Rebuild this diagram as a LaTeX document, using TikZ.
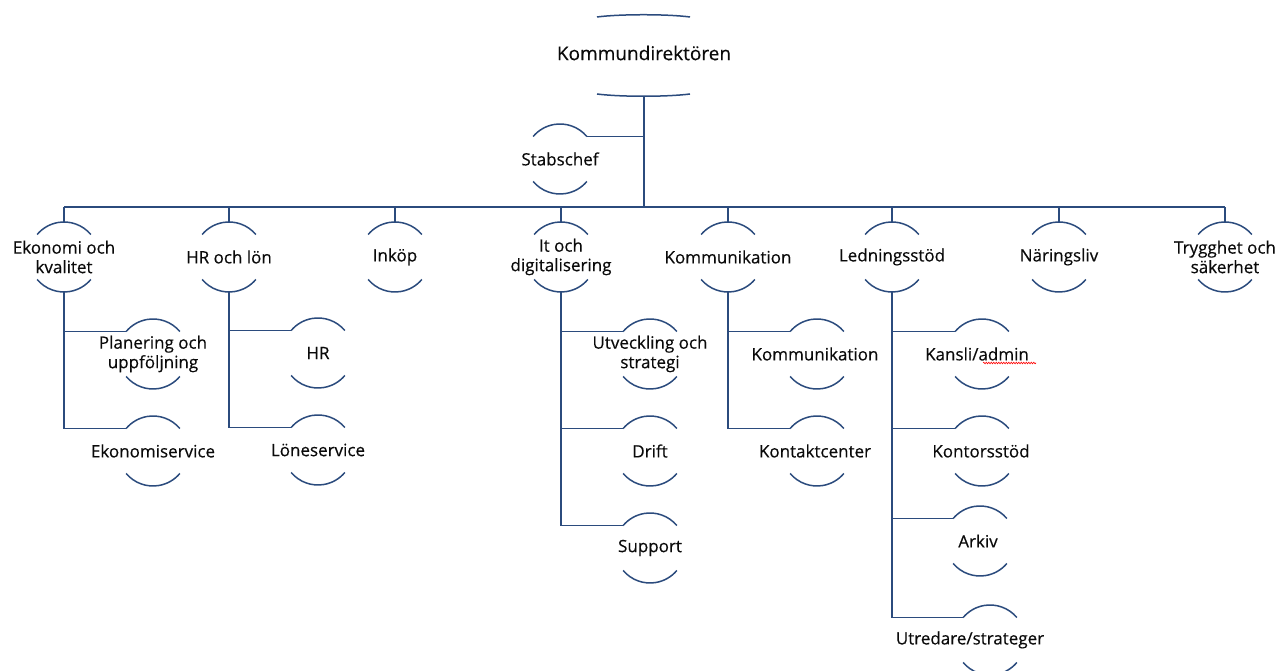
\documentclass[tikz,border=0pt]{standalone}
\usepackage{fontspec}
\setmainfont{Open Sans}
\usetikzlibrary{calc,decorations.pathmorphing}
\definecolor{navy}{HTML}{2B4B7D}
\definecolor{txt}{HTML}{0A0A0A}
\tikzset{
  lbl/.style={align=center,text=txt,font=\fontsize{17}{19.5}\selectfont\addfontfeatures{FakeBold=0.35},inner sep=0pt},
  arcline/.style={draw=navy,line width=1.5pt},
  conn/.style={draw=navy,line width=1.7pt},
  trunk/.style={draw=navy,line width=2.8pt},
}
\newcommand\orgnode[5]{%
  \coordinate (#1c) at (#2,{671-#3});
  \node[lbl] (#1) at ($(#1c)+(#4,0)$) {#5};
  \draw[arcline] ($(#1c)+(40:35)$) arc[start angle=40,end angle=140,radius=35];
  \draw[arcline] ($(#1c)+(220:35)$) arc[start angle=220,end angle=320,radius=35];
  \coordinate (#1-top) at ($(#1c)+(0,35)$);
  \coordinate (#1-bot) at ($(#1c)+(0,-35)$);
  \coordinate (#1-tl) at ($(#1c)+(140:35)$);
  \coordinate (#1-tr) at ($(#1c)+(40:35)$);
}
\begin{document}
\begin{tikzpicture}[x=1pt,y=1pt]
\useasboundingbox (0,0) rectangle (1279,671);
\clip (0,0) rectangle (1279,671);
\fill[white] (0,0) rectangle (1279,671);
% top node
\node[lbl,font=\fontsize{19}{22}\selectfont\addfontfeatures{FakeBold=0.35}] (kd) at (644,618) {Kommundirektören};
\draw[arcline] (597,654) .. controls (620,657) and (667,657) .. (690,654);
\draw[arcline] (597,577) .. controls (620,574) and (667,574) .. (690,577);
\coordinate (kd-bot) at (644,575);
\coordinate (bus) at (644,464);
% stabschef
\orgnode{stab}{560}{159}{0}{Stabschef}
% level 1
\orgnode{ek}{64}{257}{0}{Ekonomi och\\kvalitet}
\orgnode{hr}{229}{257}{0}{HR och lön}
\orgnode{ink}{395}{257}{0}{Inköp}
\orgnode{it}{561}{257}{0}{It och\\digitalisering}
\orgnode{kom}{728}{257}{0}{Kommunikation}
\orgnode{led}{892}{257}{0}{Ledningsstöd}
\orgnode{nar}{1059}{257}{0}{Näringsliv}
\orgnode{try}{1225}{257}{0}{Trygghet och\\säkerhet}
% level 2
\orgnode{pl}{153}{354}{0}{Planering och\\uppföljning}
\orgnode{eks}{153}{451}{0}{Ekonomiservice}
\orgnode{hrh}{318}{353}{0}{HR}
\orgnode{lon}{318}{450}{0}{Löneservice}
\orgnode{utv}{650}{354}{0}{Utveckling och\\strategi}
\orgnode{dr}{650}{451}{0}{Drift}
\orgnode{sup}{650}{548}{0}{Support}
\orgnode{kk}{817}{354}{-2}{Kommunikation}
\orgnode{kc}{817}{451}{-2}{Kontaktcenter}
\orgnode{kan}{982}{354}{-5}{Kansli/admin}
\orgnode{kon}{982}{451}{-1}{Kontorsstöd}
\orgnode{ark}{980}{541}{-2}{Arkiv}
\orgnode{utr}{990}{640}{-20}{Utredare/strateger}
% spell-check underline
\draw[red,line width=0.6pt,decorate,decoration={snake,segment length=2.5pt,amplitude=0.8pt}] (983,308) -- (1036,308);
% trunk
\draw[trunk] (kd-bot) -- (bus);
\draw[conn] (stab-tr) -- (stab-tr -| kd-bot);
\draw[conn] (ek-top |- bus) -- (try-top |- bus);
\foreach \n in {ek,hr,ink,it,kom,led,nar,try}{\draw[conn] (\n-top) -- (\n-top |- bus);}
% children
\draw[conn] (ek-bot) -- (ek-bot |- eks-tl) -- (eks-tl);
\draw[conn] (ek-bot |- pl-tl) -- (pl-tl);
\draw[conn] (hr-bot) -- (hr-bot |- lon-tl) -- (lon-tl);
\draw[conn] (hr-bot |- hrh-tl) -- (hrh-tl);
\draw[conn] (it-bot) -- (it-bot |- sup-tl) -- (sup-tl);
\draw[conn] (it-bot |- utv-tl) -- (utv-tl);
\draw[conn] (it-bot |- dr-tl) -- (dr-tl);
\draw[conn] (kom-bot) -- (kom-bot |- kc-tl) -- (kc-tl);
\draw[conn] (kom-bot |- kk-tl) -- (kk-tl);
\draw[conn] (led-bot) -- (led-bot |- utr-tl) -- (utr-tl);
\draw[conn] (led-bot |- kan-tl) -- (kan-tl);
\draw[conn] (led-bot |- kon-tl) -- (kon-tl);
\draw[conn] (led-bot |- ark-tl) -- (ark-tl);
\end{tikzpicture}
\end{document}
